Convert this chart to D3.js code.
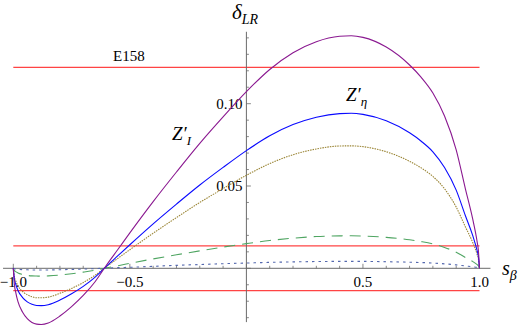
<!DOCTYPE html>
<html>
<head>
<meta charset="utf-8">
<script src="https://cdn.jsdelivr.net/npm/d3@7"></script>
<style>
  body { margin: 0; background: #fff; }
  svg { display: block; }
</style>
</head>
<body>
<svg id="canvas" width="526" height="331"></svg>
<script>
'use strict';

// s_beta sample points (x axis)
var sBeta = [-1, -0.995, -0.99, -0.98, -0.96, -0.94, -0.92, -0.9, -0.88, -0.85, -0.8, -0.75,
  -0.7, -0.65, -0.6, -0.55, -0.5, -0.4, -0.3, -0.2, -0.1, 0, 0.1, 0.2, 0.3, 0.4, 0.45,
  0.5, 0.6, 0.7, 0.75, 0.8, 0.85, 0.9, 0.94, 0.97, 0.99, 0.995, 1];

// delta_LR for each model
var zI = [0, -0.0102, -0.0143, -0.0203, -0.0267, -0.0306, -0.0329, -0.0339, -0.0341, -0.0332, -0.0290, -0.0233,
  -0.0165, -0.0083, 0.0020, 0.0117, 0.0215, 0.0405, 0.0585, 0.0759, 0.0920, 0.1073, 0.1208, 0.1310, 0.1377, 0.1410, 0.1413,
  0.1403, 0.1344, 0.1235, 0.1160, 0.1065, 0.0925, 0.0720, 0.0480, 0.0305, 0.0160, 0.0111, 0];
var zEta = [0, -0.0068, -0.0095, -0.0135, -0.0178, -0.0204, -0.0219, -0.0226, -0.0227, -0.0221, -0.0193, -0.0155,
  -0.0110, -0.0055, 0.0013, 0.0078, 0.0143, 0.0270, 0.0390, 0.0506, 0.0613, 0.0715, 0.0805, 0.0873, 0.0918, 0.0940, 0.0942,
  0.0935, 0.0896, 0.0823, 0.0772, 0.0708, 0.0612, 0.0475, 0.0318, 0.0203, 0.0106, 0.0074, 0];
var zTan = [0, -0.0054, -0.0075, -0.0107, -0.0141, -0.0161, -0.0173, -0.0179, -0.0179, -0.0175, -0.0152, -0.0122,
  -0.0087, -0.0043, 0.0010, 0.0062, 0.0113, 0.0213, 0.0308, 0.0400, 0.0484, 0.0565, 0.0636, 0.0690, 0.0725, 0.0743, 0.0744,
  0.0739, 0.0708, 0.0650, 0.0610, 0.0558, 0.0483, 0.0372, 0.0250, 0.0160, 0.0084, 0.0058, 0];
var zGreen = [0, -0.0014, -0.0020, -0.0028, -0.0037, -0.0043, -0.0046, -0.0047, -0.0048, -0.0046, -0.0041, -0.0033,
  -0.0023, -0.0012, 0.0003, 0.0016, 0.0030, 0.0057, 0.0082, 0.0106, 0.0129, 0.0150, 0.0169, 0.0183, 0.0193, 0.0197, 0.0198,
  0.0196, 0.0188, 0.0173, 0.0162, 0.0148, 0.0127, 0.0098, 0.0065, 0.0042, 0.0022, 0.0016, 0];
var zDot = [0, -0.0003, -0.0004, -0.0006, -0.0008, -0.0009, -0.0010, -0.0010, -0.0010, -0.0010, -0.0009, -0.0007,
  -0.0005, -0.0002, 0.0001, 0.0004, 0.0006, 0.0012, 0.0018, 0.0023, 0.0028, 0.0032, 0.0036, 0.0039, 0.0041, 0.0042, 0.0042,
  0.0042, 0.0040, 0.0037, 0.0035, 0.0032, 0.0027, 0.0021, 0.0014, 0.0009, 0.0005, 0.0003, 0];

// experimental bounds (horizontal lines)
var boundValues = [0.1221, 0.0136, -0.0136];

var xTicks = [-1, -0.5, 0.5, 1];
var yTicks = [0.05, 0.10];

var series = [
  {name: 'green', values: zGreen, color: '#4fa562', width: 1.1, dash: '11,7'},
  {name: 'dot', values: zDot, color: '#5468ae', width: 1.1, dash: '2.5,4'},
  {name: 'tan', values: zTan, color: '#9a8535', width: 1.1, dash: '1.5,1'},
  {name: 'eta', values: zEta, color: '#0a0aff', width: 1.1, dash: null},
  {name: 'I', values: zI, color: '#8a1890', width: 1.1, dash: null}
];

/* scales fitted to the reference: -1 at 13.3px, 1 at 479.5px; 0 at 268.3, 0.10 at 103.7 */
var x = d3.scaleLinear().domain([-1, 1]).range([13.3, 479.5]);
var y = d3.scaleLinear().domain([0, 0.10]).range([268.3, 103.7]);
var xExtent = [-1.044, 1.047];
var yExtent = [-0.0327, 0.1437];

var serif = '"Liberation Serif", "Times New Roman", Times, "DejaVu Serif", serif';
var svg = d3.select('svg#canvas').attr('font-family', serif);
var axisColor = '#6b6b6b';

/* horizontal bound lines */
svg.append('g').selectAll('line')
  .data(boundValues)
  .join('line')
    .attr('x1', x(-1)).attr('x2', x(1))
    .attr('y1', function(d){ return y(d); })
    .attr('y2', function(d){ return y(d); })
    .attr('stroke', '#ff3030')
    .attr('stroke-width', 1.3)
    .attr('stroke-opacity', 0.9);

/* x axis: minor ticks, then major ticks with labels */
var gx = svg.append('g').attr('transform', 'translate(0,' + y(0) + ')');
gx.append('line')
  .attr('x1', x(xExtent[0])).attr('x2', x(xExtent[1]))
  .attr('stroke', axisColor).attr('stroke-width', 1);
gx.selectAll('line.minor')
  .data(d3.range(-10, 11).map(function(i){ return i / 10; }))
  .join('line')
    .attr('class', 'minor')
    .attr('x1', function(d){ return x(d); }).attr('x2', function(d){ return x(d); })
    .attr('y1', 0).attr('y2', function(d){ return Math.abs(d * 2 % 1) < 1e-9 ? -4.5 : -2.5; })
    .attr('stroke', axisColor).attr('stroke-width', 0.8);
gx.selectAll('text')
  .data(xTicks)
  .join('text')
    .attr('x', function(d){ return x(d); })
    .attr('y', 19)
    .attr('text-anchor', 'middle')
    .attr('font-size', 15)
    .style('font-family', serif)
    .text(d3.format('.1f'));

/* y axis */
var gy = svg.append('g').attr('transform', 'translate(' + x(0) + ',0)');
gy.append('line')
  .attr('y1', y(yExtent[0])).attr('y2', y(yExtent[1]))
  .attr('stroke', axisColor).attr('stroke-width', 1);
gy.selectAll('line.minor')
  .data(d3.range(-3, 15).map(function(i){ return i / 100; }))
  .join('line')
    .attr('class', 'minor')
    .attr('y1', function(d){ return y(d); }).attr('y2', function(d){ return y(d); })
    .attr('x1', 0).attr('x2', function(d){ return Math.abs(Math.round(d * 100) % 5) === 0 ? 4.5 : 2.5; })
    .attr('stroke', axisColor).attr('stroke-width', 0.8);
gy.selectAll('text')
  .data(yTicks)
  .join('text')
    .attr('x', -4)
    .attr('y', function(d){ return y(d); })
    .attr('dy', '0.35em')
    .attr('text-anchor', 'end')
    .attr('font-size', 15)
    .style('font-family', serif)
    .text(d3.format('.2f'));

/* curves */
var line = d3.line()
  .x(function(d){ return x(d[0]); })
  .y(function(d){ return y(d[1]); })
  .curve(d3.curveMonotoneX);

svg.append('g').selectAll('path')
  .data(series)
  .join('path')
    .attr('d', function(s){ return line(sBeta.map(function(v, i){ return [v, s.values[i]]; })); })
    .attr('fill', 'none')
    .attr('stroke', function(s){ return s.color; })
    .attr('stroke-width', function(s){ return s.width; })
    .attr('stroke-dasharray', function(s){ return s.dash; });

/* axis titles and curve labels */
function label(px, py, main, sub, mainSize, subSize){
  var t = svg.append('text').attr('x', px).attr('y', py)
    .attr('font-style', 'italic').style('font-family', serif);
  t.append('tspan').attr('font-size', mainSize).text(main);
  t.append('tspan').attr('font-size', subSize).attr('dy', 5).text(sub);
  return t;
}
label(232, 19, 'δ', 'LR', 21, 14);
label(502, 275, 's', 'β', 20, 14);
label(172, 140, 'Z′', 'I', 19, 13);
label(346, 101, 'Z′', 'η', 19, 13);

svg.append('text').attr('x', 113).attr('y', 61).attr('font-size', 15)
  .style('font-family', serif).text('E158');
</script>
</body>
</html>
